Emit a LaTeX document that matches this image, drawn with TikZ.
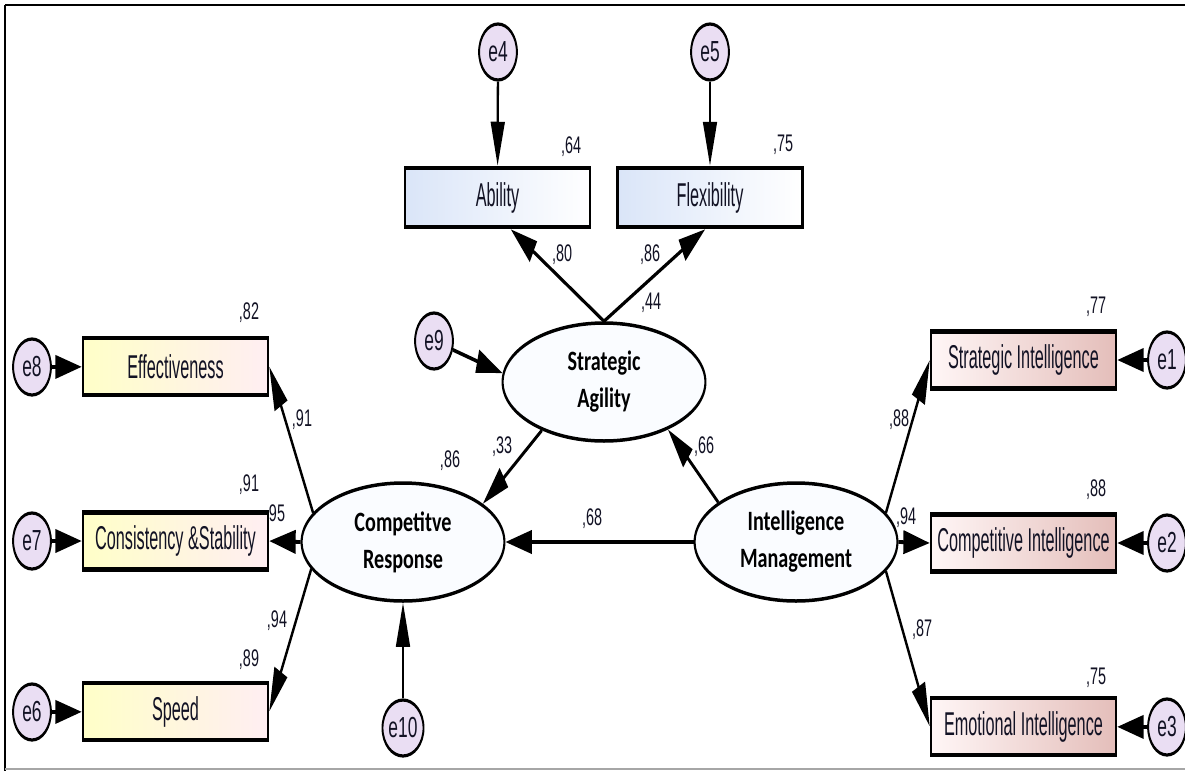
\documentclass[tikz,border=0pt]{standalone}
\usepackage{fontspec}
\setmainfont{Liberation Sans}
\newfontfamily\boxfont[FakeStretch=0.82]{Liberation Sans}
\newfontfamily\latfont[FakeStretch=1.2]{Carlito}
\usetikzlibrary{arrows.meta,shapes.geometric,calc}

\definecolor{ink}{RGB}{18,18,36}
\definecolor{errfill}{RGB}{234,222,243}
\definecolor{latfill}{RGB}{250,252,255}
\definecolor{ylw}{RGB}{255,255,200}
\definecolor{pnk}{RGB}{255,238,242}
\definecolor{blu}{RGB}{218,229,248}
\definecolor{rose}{RGB}{228,190,186}
\definecolor{roselt}{RGB}{255,246,246}

\tikzset{
  obs/.style={rectangle, draw=black, line width=4.5pt, minimum width=308pt,
    minimum height=57pt, inner sep=0pt, text=ink,
    font=\boxfont\fontsize{33}{36}\selectfont},
  obsL/.style={obs, left color=ylw, right color=pnk},
  obsT/.style={obs, left color=blu, right color=white},
  obsR/.style={obs, left color=roselt, right color=rose},
  err/.style={ellipse, draw=black, line width=3.2pt, fill=errfill,
    minimum width=63pt, minimum height=56pt, inner sep=0pt, text=ink,
    font=\fontsize{29}{32}\selectfont},
  lat/.style={ellipse, draw=black, line width=3.5pt, fill=latfill,
    minimum width=338pt, minimum height=118pt, inner sep=0pt, align=center,
    text=black, font=\latfont\bfseries\fontsize{28}{37}\selectfont},
  conn/.style={draw=black, line width=3.8pt, -{Triangle[length=44pt,width=23pt]}},
  lbl/.style={inner sep=0pt, text=ink, font=\fontsize{24}{26}\selectfont}
}

\begin{document}
\begin{tikzpicture}[x=1pt, y=-1pt]
\useasboundingbox (0,0) rectangle (1185,771);
\fill[white] (0,0) rectangle (1185,771);
% frame
\draw[black, line width=2.5pt] (5,5) -- (1185,5);
\draw[black, line width=2.5pt] (5,5) -- (5,771);
\draw[gray!70, line width=2pt] (5,769) -- (1185,769);

% the model, drawn in a horizontally condensed frame
\begin{scope}[transform canvas={xscale=0.6}, x=1.666667pt, y=-1pt]
  % latent variables
  \node[lat] (sa) at (604,382) {Strategic\\Agility};
  \node[lat] (cr) at (403,542) {Competitve\\Response};
  \node[lat] (im) at (796,542) {Intelligence\\Management};

  % observed variables
  \node[obsT, minimum height=59pt] (ab) at (497.5,197.5) {Ability};
  \node[obsT, minimum height=59pt] (fl) at (710,197.5) {Flexibility};
  \node[obsL] (eff)  at (175.5,366.5) {Effectiveness};
  \node[obsL] (cons) at (175.5,541) {Consistency \&Stability};
  \node[obsL] (sp)   at (175.5,711.5) {Speed};
  \node[obsR] (si) at (1023.5,360) {Strategic Intelligence};
  \node[obsR] (ci) at (1023.5,543) {Competitive Intelligence};
  \node[obsR] (em) at (1023.5,726.5) {Emotional Intelligence};

  % error terms
  \node[err] (e4) at (498,52) {e4};
  \node[err] (e5) at (710,52) {e5};
  \node[err] (e8) at (32,367) {e8};
  \node[err] (e7) at (32,541) {e7};
  \node[err] (e6) at (32,712) {e6};
  \node[err] (e9) at (434,341) {e9};
  \node[err] (e10) at (403,728) {e10};
  \node[err] (e1) at (1167,360) {e1};
  \node[err] (e2) at (1167,543) {e2};
  \node[err] (e3) at (1167,727) {e3};

  % error paths
  \draw[conn] (e4) -- (ab);
  \draw[conn] (e5) -- (fl);
  \draw[conn] (e8) -- (eff);
  \draw[conn] (e7) -- (cons);
  \draw[conn] (e6) -- (sp);
  \draw[conn] (e1) -- (si);
  \draw[conn] (e2) -- (ci);
  \draw[conn] (e3) -- (em);
  \draw[conn] (e9) -- (sa.177);
  \draw[conn] (e10) -- (cr);

  % loadings and structural paths
  \draw[conn] (sa.north) -- ([xshift=22pt]ab.south);
  \draw[conn] (sa.north) -- ([xshift=-8pt]fl.south);
  \draw[conn] (sa.205) -- (cr.16);
  \draw[conn] (im.163) -- (sa.-24);
  \draw[conn] (im.west) -- (cr.east);
  \draw[conn] (im.11) -- (si.west);
  \draw[conn] (im.east) -- (ci.west);
  \draw[conn] (im.-11) -- (em.west);
  \draw[conn] (cr.169) -- (eff.east);
  \draw[conn] (cr.west) -- (cons.east);
  \draw[conn] (cr.190) -- (sp.east);

  % estimates
  \node[lbl] (l1)  at (571,147) {,64};
  \node[lbl] (l2)  at (783,145) {,75};
  \node[lbl] (l3)  at (562,255) {,80};
  \node[lbl] (l4)  at (650,255) {,86};
  \node[lbl] (l5)  at (651,303) {,44};
  \node[lbl] (l6)  at (249,313) {,82};
  \node[lbl] (l7)  at (302,420) {,91};
  \node[lbl] (l8)  at (249,485) {,91};
  \node[lbl] (l9)  at (277,513) {95};
  \node[lbl] (l10) at (450,461) {,86};
  \node[lbl] (l11) at (502,447) {,33};
  \node[lbl] (l12) at (592,519) {,68};
  \node[lbl] (l13) at (704,447) {,66};
  \node[lbl] (l14) at (1096,307) {,77};
  \node[lbl] (l15) at (899,420) {,88};
  \node[lbl] (l16) at (906,518) {,94};
  \node[lbl] (l17) at (1096,490) {,88};
  \node[lbl] (l18) at (922,630) {,87};
  \node[lbl] (l19) at (1096,678) {,75};
  \node[lbl] (l20) at (277,621) {,94};
  \node[lbl] (l21) at (249,660) {,89};
\end{scope}
\end{tikzpicture}
\end{document}
